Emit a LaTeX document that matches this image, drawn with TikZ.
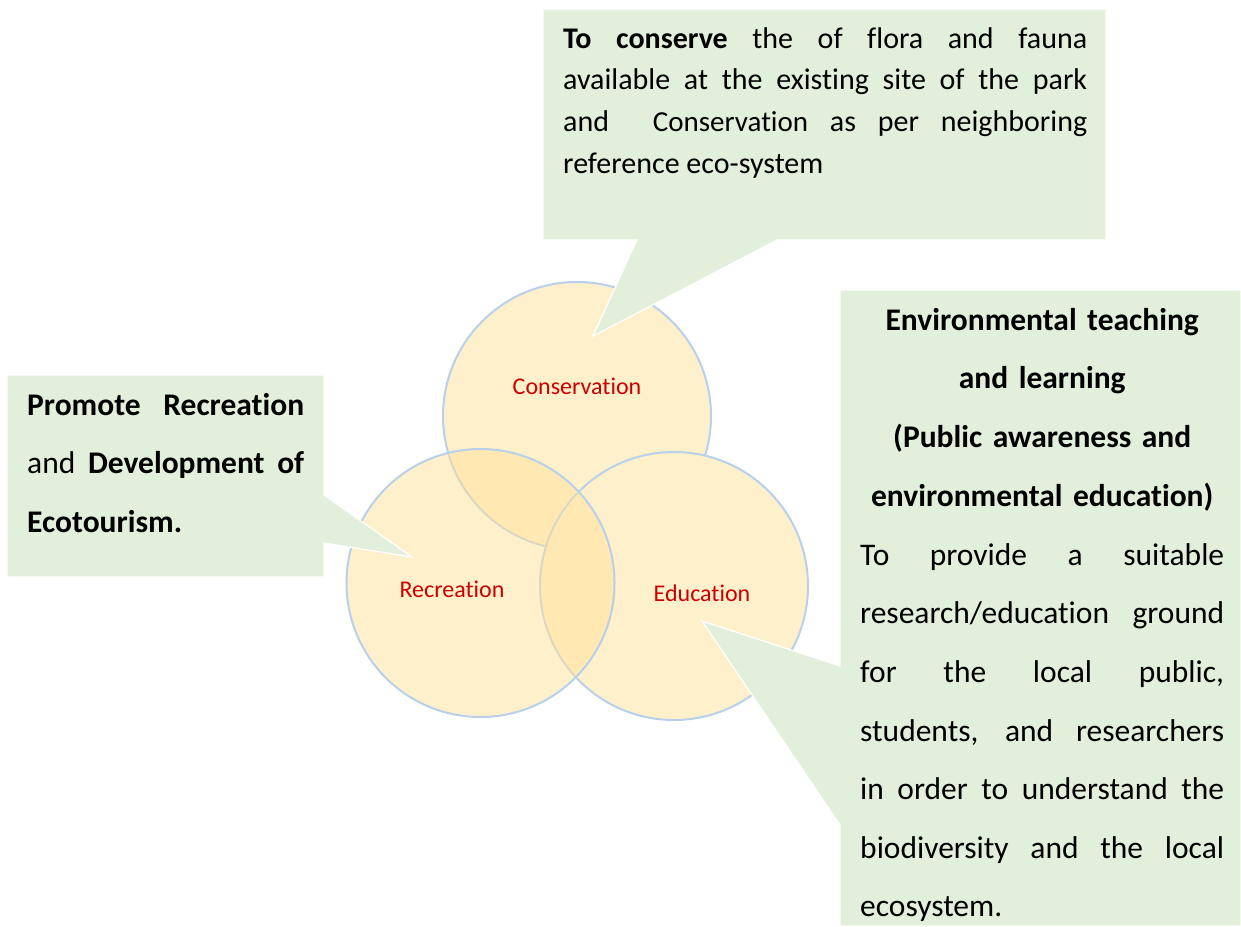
\documentclass[tikz,border=0pt]{standalone}
\usepackage{fontspec}
\setmainfont{Carlito}[Ligatures=NoCommon]
\definecolor{fillS}{RGB}{255,240,204}
\definecolor{fillC}{RGB}{255,225,153}
\definecolor{ring}{RGB}{184,208,236}
\definecolor{callgreen}{RGB}{226,239,218}
\definecolor{lblred}{RGB}{204,0,0}
\hyphenpenalty=10000
\exhyphenpenalty=10000
\tolerance=10000
\tikzset{
  venn/.style={circle, minimum size=268pt, inner sep=0pt, draw=ring, line width=2pt},
  callout/.style={fill=callgreen, draw=white, line width=1.2pt, line join=miter},
  lbl/.style={text=lblred, font=\fontsize{24}{28}\selectfont, anchor=base, inner sep=0pt},
  txt/.style={anchor=north west, inner sep=0pt, align=justify},
  head/.style={anchor=north west, inner sep=0pt, align=center}
}
\begin{document}
\begin{tikzpicture}[x=1pt,y=-1pt]
\useasboundingbox (0,0) rectangle (1241,926);
% Venn circles
\node[venn, fill=fillS] (con) at (577,416) {};
\node[venn, fill=fillS] (edu) at (674,586) {};
\node[venn, fill=fillC, fill opacity=0.5] (rec) at (480.5,583) {};
\node[lbl] (conlbl) at (577,394) {Conservation};
\node[lbl] (reclbl) at (452,597) {Recreation};
\node[lbl] (edulbl) at (702,601) {Education};
% callout tips
\coordinate (contip) at (593,336);
\coordinate (rectip) at (412,557);
\coordinate (edutip) at (702,621);
% callouts
\path[callout] (543,9) -- (1106,9) -- (1106,240) -- (777,240) -- (contip) -- (637,240) -- (543,240) -- cycle;
\path[callout] (7,375) -- (324,375) -- (324,495) -- (rectip) -- (324,543) -- (324,577) -- (7,577) -- cycle;
\path[callout] (840,290) -- (1241,290) -- (1241,926) -- (840,926) -- (840,825) -- (edutip) -- (840,666) -- cycle;
% texts
\node[txt, text width=524pt, font=\fontsize{30}{41.7}\selectfont] (contxt) at (563,22)
  {\rule{0pt}{26pt}\textbf{To conserve} the of flora and fauna\linebreak available at the existing site of the park\linebreak and~ {\fontsize{29}{41.7}\selectfont Conservation} as per neighboring\linebreak reference eco-system};
\node[txt, text width=277pt, font=\fontsize{31.5}{58.6}\selectfont] (rectxt) at (27,389)
  {\rule{0pt}{26pt}\textbf{Promote Recreation}\linebreak and \textbf{Development of}\linebreak \textbf{Ecotourism.}};
\node[head, text width=364pt, font=\bfseries\fontsize{31.5}{58.6}\selectfont] (eduhead) at (860,304)
  {\rule{0pt}{26pt}Environmental teaching\\ and learning\\ (Public awareness and\\ environmental education)};
\node[txt, text width=364pt, font=\fontsize{31.5}{58.6}\selectfont] (edubody) at (860,539)
  {\rule{0pt}{26pt}To provide a suitable\linebreak research/education ground\linebreak for the local public,\linebreak students, and researchers\linebreak in order to understand the\linebreak biodiversity and the local\linebreak ecosystem.};
\end{tikzpicture}
\end{document}
